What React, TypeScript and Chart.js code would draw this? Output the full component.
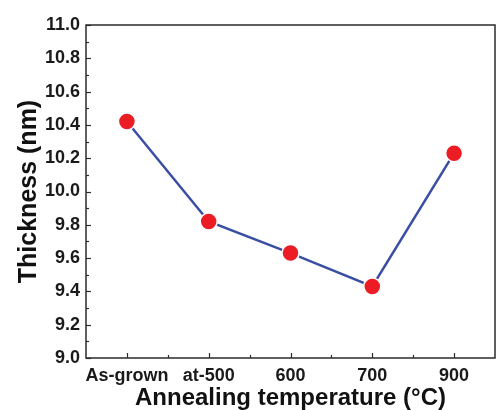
import React, { useEffect, useRef } from "react";
import { Chart, registerables } from "chart.js";

Chart.register(...registerables);

const categories = ["As-grown", "at-500", "600", "700", "900"];
const thickness = [10.42, 9.82, 9.63, 9.43, 10.23];
const yMin = 9.0;
const yMax = 11.0;
const yStep = 0.2;
const xTitle = "Annealing temperature (\u00B0C)";
const yTitle = "Thickness (nm)";

const FONT = "'Liberation Sans', Arial, sans-serif";
const AXIS_COLOR = "#2b2b2b";

const framePlugin = {
  id: "frameTicks",
  afterLayout(chart: any) {
    // pin the plot area to the reference frame
    const a = chart.chartArea;
    a.right = 495;
    a.width = a.right - a.left;
    const x = chart.scales.x;
    x.right = 495;
    x.width = x.right - x.left;
    x.configure();
  },
  afterDraw(chart: any) {
    const { ctx, chartArea, scales } = chart;
    const { left, right, top, bottom } = chartArea;
    ctx.save();
    ctx.strokeStyle = AXIS_COLOR;
    ctx.lineWidth = 1.5;
    ctx.strokeRect(left, top, right - left, bottom - top);
    ctx.lineWidth = 1.2;
    const n = Math.round((yMax - yMin) / (yStep / 2));
    for (let i = 0; i <= n; i++) {
      const v = yMin + (i * yStep) / 2;
      const y = Math.round(scales.y.getPixelForValue(v)) + 0.5;
      const len = i % 2 === 0 ? 5 : 3;
      ctx.beginPath();
      ctx.moveTo(left, y);
      ctx.lineTo(left + len, y);
      ctx.stroke();
    }
    for (let i = 0; i < categories.length; i++) {
      const x = Math.round(scales.x.getPixelForValue(i)) + 0.5;
      ctx.beginPath();
      ctx.moveTo(x, bottom);
      ctx.lineTo(x, bottom - 5);
      ctx.stroke();
      if (i < categories.length - 1) {
        const x2 =
          Math.round(
            (scales.x.getPixelForValue(i) + scales.x.getPixelForValue(i + 1)) / 2
          ) + 0.5;
        ctx.beginPath();
        ctx.moveTo(x2, bottom);
        ctx.lineTo(x2, bottom - 3);
        ctx.stroke();
      }
    }
    ctx.restore();
  },
};

export default function App() {
  const canvasRef = useRef<HTMLCanvasElement | null>(null);

  useEffect(() => {
    document.body.style.margin = "0";
    document.body.style.overflow = "hidden";
    const canvas = canvasRef.current;
    if (!canvas) return;
    const chart = new Chart(canvas, {
      type: "line",
      data: {
        labels: categories,
        datasets: [
          {
            data: thickness,
            borderColor: "#3a4fa3",
            borderWidth: 2.5,
            pointRadius: 8.5,
            pointBackgroundColor: "#ec1c24",
            pointBorderColor: "#ffffff",
            pointBorderWidth: 1.5,
            pointHoverRadius: 8.5,
            tension: 0,
          },
        ],
      },
      options: {
        responsive: false,
        animation: false,
        devicePixelRatio: 1,
        layout: { padding: { left: 14, top: 25, right: 3, bottom: 0 } },
        plugins: {
          legend: { display: false },
          tooltip: { enabled: false },
        },
        scales: {
          x: {
            type: "category",
            offset: true,
            grid: { display: false, drawTicks: false },
            border: { display: false },
            ticks: {
              color: "#1a1a1a",
              padding: 7,
              maxRotation: 0,
              autoSkip: false,
              font: { family: FONT, size: 18, weight: "bold" },
            },
            title: {
              display: true,
              text: xTitle,
              color: "#111",
              padding: { top: 0, bottom: 0 },
              font: { family: FONT, size: 24, weight: "bold", lineHeight: 1.0 },
            },
            afterFit: (s: any) => {
              s.height = 410 - 358;
              s.paddingLeft = 0;
              s.paddingRight = 0;
            },
          },
          y: {
            min: yMin,
            max: yMax,
            grid: { display: false, drawTicks: false },
            border: { display: false },
            ticks: {
              stepSize: yStep,
              color: "#1a1a1a",
              padding: 6,
              font: { family: FONT, size: 18, weight: "bold" },
              callback: (v: any) => Number(v).toFixed(1),
            },
            title: {
              display: true,
              text: yTitle,
              color: "#111",
              padding: { top: 0, bottom: 4 },
              font: { family: FONT, size: 25, weight: "bold" },
            },
            afterFit: (s: any) => {
              s.width = 86 - 14;
              s.paddingLeft = 0;
              s.paddingRight = 0;
            },
          },
        },
      },
      plugins: [framePlugin],
    });
    return () => chart.destroy();
  }, []);

  return (
    <div style={{ width: 498, height: 410 }}>
      <canvas
        ref={canvasRef}
        width={498}
        height={410}
        style={{ display: "block", width: 498, height: 410 }}
      />
    </div>
  );
}
